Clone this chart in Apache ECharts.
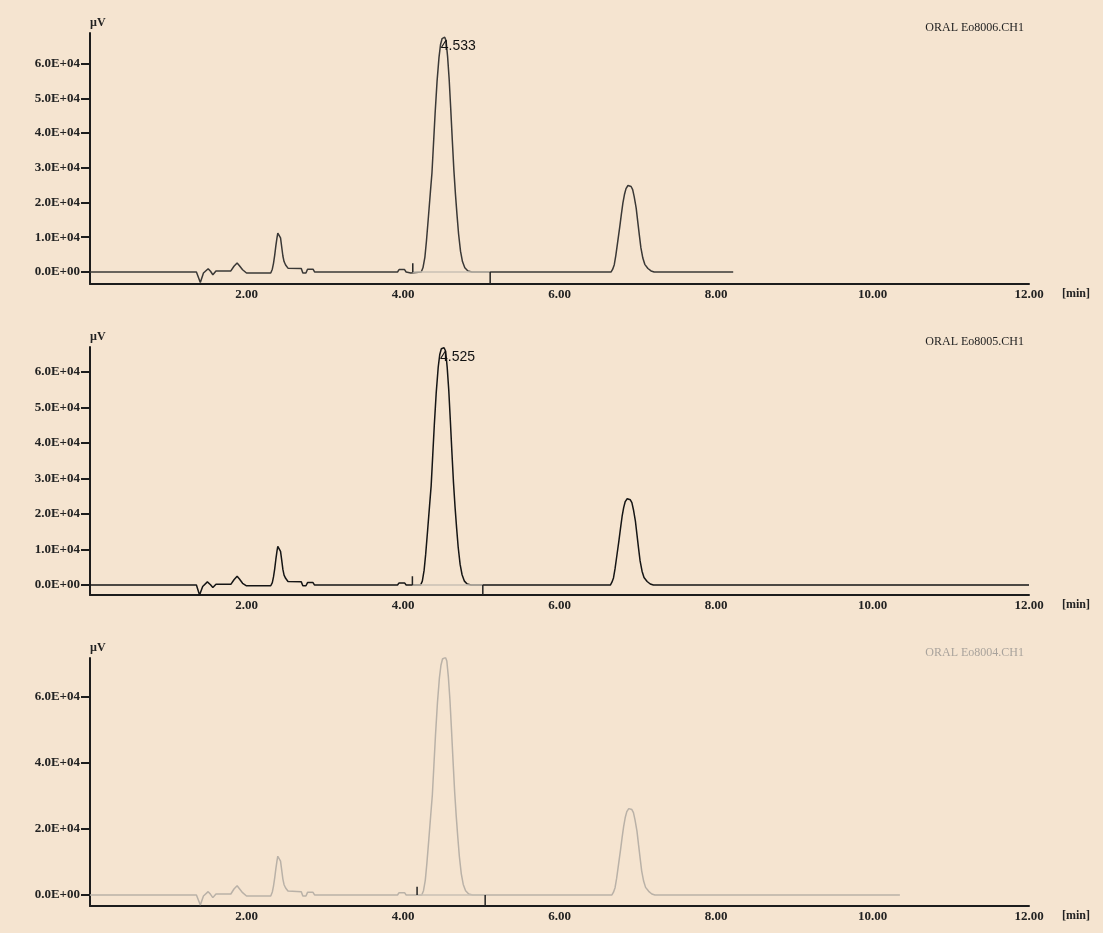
<!DOCTYPE html>
<html>
<head>
<meta charset="utf-8">
<title>ORAL Eo8006 / Eo8005 / Eo8004</title>
<script src="https://cdn.jsdelivr.net/npm/echarts@6/dist/echarts.min.js"></script>
<style>
  html, body { margin: 0; padding: 0; background: #F5E4D0; }
  #chart { width: 1103px; height: 933px; }
</style>
</head>
<body>
<div id="chart"></div>
<script>
// Chromatogram traces: [retention time (min), signal (µV)]
const trace8006 = [
  [0, 0], [1.36, 0], [1.41, -3000], [1.45, -300], [1.51, 950], [1.54, 200], [1.57, -800], [1.61, 300],
  [1.80, 300], [1.84, 1650], [1.88, 2600], [1.91, 1800], [1.95, 650], [2.00, -300], [2.31, -300],
  [2.33, 800], [2.345, 2500], [2.36, 4800], [2.375, 7500], [2.39, 9900], [2.40, 11200], [2.41, 11700],
  [2.42, 11300], [2.435, 9800], [2.45, 7200], [2.465, 4600], [2.48, 3000], [2.50, 2000], [2.53, 1100],
  [2.70, 1000], [2.72, -300], [2.76, -300], [2.78, 800], [2.85, 800], [2.87, 0], [3.93, 0], [3.95, 700],
  [4.02, 700], [4.04, 0], [4.10, -300], [4.125, 0],
  [4.233, 0], [4.255, 1200], [4.28, 4300], [4.30, 9000], [4.325, 15900], [4.35, 23000], [4.37, 28500],
  [4.39, 37000], [4.41, 45500], [4.435, 54800], [4.46, 61800], [4.48, 65500], [4.50, 67200], [4.533, 67600],
  [4.55, 66600], [4.57, 62000], [4.59, 55500], [4.61, 47000], [4.63, 38000], [4.65, 29400], [4.67, 22500],
  [4.69, 16500], [4.71, 11000], [4.735, 6000], [4.76, 3000], [4.79, 1200], [4.83, 300], [4.88, 0],
  [6.66, 0], [6.68, 800], [6.70, 2100], [6.72, 4800], [6.745, 8900], [6.77, 13000], [6.79, 16500],
  [6.81, 19800], [6.83, 22300], [6.85, 24000], [6.875, 24900], [6.895, 25000], [6.915, 24600],
  [6.935, 23700], [6.955, 21600], [6.98, 18400], [7.00, 14500], [7.02, 10700], [7.04, 7000],
  [7.065, 4000], [7.09, 2200], [7.13, 1000], [7.17, 300], [7.21, 0], [8.22, 0]
];
const trace8005 = [
  [0, 0], [1.36, 0], [1.40, -2800], [1.44, -400], [1.50, 900], [1.54, 100], [1.57, -700], [1.61, 200],
  [1.80, 200], [1.84, 1500], [1.88, 2500], [1.91, 1700], [1.95, 500], [2.00, -200], [2.31, -200],
  [2.33, 700], [2.345, 2300], [2.36, 4500], [2.375, 7200], [2.39, 9600], [2.40, 10900], [2.41, 11300],
  [2.42, 10900], [2.435, 9500], [2.45, 7000], [2.465, 4400], [2.48, 2800], [2.50, 1900], [2.53, 1000],
  [2.70, 900], [2.72, -200], [2.76, -200], [2.78, 700], [2.85, 700], [2.87, 0], [3.93, 0], [3.95, 600],
  [4.02, 600], [4.04, 0], [4.12, 0],
  [4.225, 0], [4.247, 1100], [4.27, 4200], [4.29, 8700], [4.315, 15500], [4.34, 22500], [4.36, 28000],
  [4.38, 36500], [4.40, 45000], [4.425, 54300], [4.45, 61300], [4.47, 64900], [4.49, 66500], [4.525, 66800],
  [4.545, 65800], [4.565, 61200], [4.585, 54800], [4.605, 46300], [4.625, 37400], [4.645, 28900],
  [4.665, 22000], [4.685, 16100], [4.705, 10700], [4.73, 5800], [4.755, 2900], [4.785, 1100],
  [4.82, 300], [4.87, 0],
  [6.65, 0], [6.67, 800], [6.69, 2000], [6.71, 4600], [6.735, 8600], [6.76, 12600], [6.78, 16000],
  [6.80, 19300], [6.82, 21800], [6.84, 23500], [6.865, 24300], [6.885, 24400], [6.905, 24000],
  [6.925, 23200], [6.945, 21200], [6.97, 18000], [6.99, 14200], [7.01, 10400], [7.03, 6800],
  [7.055, 3900], [7.08, 2100], [7.12, 1000], [7.16, 300], [7.20, 0], [12.0, 0]
];
const trace8004 = [
  [0, 0], [1.36, 0], [1.41, -3000], [1.45, -300], [1.51, 1000], [1.54, 200], [1.57, -800], [1.61, 300],
  [1.80, 300], [1.84, 1800], [1.88, 2800], [1.91, 1900], [1.95, 700], [2.00, -300], [2.31, -300],
  [2.33, 900], [2.345, 2700], [2.36, 5100], [2.375, 7900], [2.39, 10400], [2.40, 11700], [2.41, 12200],
  [2.42, 11800], [2.435, 10200], [2.45, 7500], [2.465, 4800], [2.48, 3100], [2.50, 2100], [2.53, 1200],
  [2.70, 1000], [2.72, -300], [2.76, -300], [2.78, 800], [2.85, 800], [2.87, 0], [3.93, 0], [3.95, 700],
  [4.02, 700], [4.04, 0], [4.18, 0],
  [4.24, 0], [4.262, 1300], [4.285, 4500], [4.305, 9500], [4.33, 16800], [4.355, 24300], [4.375, 30200],
  [4.395, 39200], [4.415, 48200], [4.44, 58000], [4.465, 65500], [4.485, 69400], [4.505, 71300], [4.542, 71800],
  [4.56, 70700], [4.58, 65800], [4.60, 58900], [4.62, 49800], [4.64, 40300], [4.66, 31200], [4.68, 23900],
  [4.70, 17500], [4.72, 11700], [4.745, 6400], [4.77, 3200], [4.80, 1300], [4.84, 300], [4.89, 0],
  [6.67, 0], [6.69, 850], [6.71, 2200], [6.73, 5000], [6.755, 9300], [6.78, 13600], [6.80, 17300],
  [6.82, 20700], [6.84, 23400], [6.86, 25200], [6.885, 26100], [6.905, 26200], [6.925, 25800],
  [6.945, 24900], [6.965, 22700], [6.99, 19300], [7.01, 15200], [7.03, 11200], [7.05, 7300],
  [7.075, 4200], [7.10, 2300], [7.14, 1100], [7.18, 300], [7.22, 0], [10.35, 0]
];

// Labelled peak retention times (min)
const peakTimes = [4.533, 4.525, 4.542];
// Integration window of the labelled peak: [start, end] (min)
const integration = [[4.125, 5.114], [4.12, 5.02], [4.18, 5.05]];
// Run names
const runNames = ['ORAL Eo8006.CH1', 'ORAL Eo8005.CH1', 'ORAL Eo8004.CH1'];
// Signal axis ranges and tick values
const yRanges = [[-3460, 68800], [-2800, 67000], [-3330, 71600]];
const yTicks = [
  [0, 10000, 20000, 30000, 40000, 50000, 60000],
  [0, 10000, 20000, 30000, 40000, 50000, 60000],
  [0, 20000, 40000, 60000]
];
const xTicks = [2, 4, 6, 8, 10, 12];

const traces = [trace8006, trace8005, trace8004];
const traceColors = ['#3a3836', '#151515', '#b9b1a7'];
const titleColors = ['#222222', '#222222', '#a9a39c'];
const grids = [
  { left: 90, right: 74, top: 33, height: 251 },
  { left: 90, right: 74, top: 347, height: 248 },
  { left: 90, right: 74, top: 658, height: 248 }
];

const serif = '"Liberation Serif", "DejaVu Serif", serif';
const axisColor = '#1c1c1c';

function fmtY(v) {
  if (v === 0) return '0.0E+00';
  return (v / 10000).toFixed(1) + 'E+04';
}

const xAxes = grids.map((g, i) => ({
  type: 'value', gridIndex: i, min: 0, max: 12,
  name: '[min]', nameLocation: 'end', nameGap: 33,
  nameTextStyle: { fontFamily: serif, fontSize: 12, fontWeight: 'bold', color: '#222', verticalAlign: 'top', padding: [4, 0, 0, 0] },
  axisLine: { onZero: false, lineStyle: { color: axisColor, width: 2 } },
  axisTick: { show: false },
  splitLine: { show: false },
  axisLabel: {
    customValues: xTicks, margin: 4,
    formatter: v => v.toFixed(2),
    fontFamily: serif, fontSize: 13, fontWeight: 'bold', color: '#222'
  }
}));

const yAxes = grids.map((g, i) => ({
  type: 'value', gridIndex: i, min: yRanges[i][0], max: yRanges[i][1],
  name: 'µV', nameLocation: 'end', nameGap: 4,
  nameTextStyle: { fontFamily: serif, fontSize: 12, fontWeight: 'bold', color: '#222', align: 'left' },
  axisLine: { show: true, lineStyle: { color: axisColor, width: 2 } },
  axisTick: { show: true, customValues: yTicks[i], length: 9, lineStyle: { color: axisColor, width: 2 } },
  splitLine: { show: false },
  axisLabel: {
    customValues: yTicks[i], margin: 10,
    formatter: fmtY,
    fontFamily: serif, fontSize: 13, fontWeight: 'bold', color: '#222'
  }
}));

const series = [];
traces.forEach((tr, i) => {
  const rt = peakTimes[i];
  const apex = tr.find(p => p[0] === rt);
  series.push({
    type: 'line', xAxisIndex: i, yAxisIndex: i, data: tr,
    showSymbol: false, silent: true, z: 2,
    lineStyle: { color: traceColors[i], width: 1.5 },
    markPoint: {
      symbol: 'circle', symbolSize: 0, silent: true,
      data: [{ coord: apex }],
      label: {
        show: true, position: 'right', distance: 0, offset: [-4, 9],
        formatter: rt.toFixed(3),
        fontFamily: '"Liberation Sans", Arial, sans-serif',
        fontSize: 14, color: '#111'
      }
    }
  });
  const [s, e] = integration[i];
  // integration baseline
  series.push({
    type: 'line', xAxisIndex: i, yAxisIndex: i, data: [[s, 0], [e, 0]],
    showSymbol: false, silent: true, z: 3,
    lineStyle: { color: '#c9c0b5', width: 1.5 }
  });
  // peak start mark
  series.push({
    type: 'line', xAxisIndex: i, yAxisIndex: i, data: [[s, 0], [s, 2500]],
    showSymbol: false, silent: true, z: 4,
    lineStyle: { color: '#222', width: 1.5 }
  });
  // peak end mark
  series.push({
    type: 'line', xAxisIndex: i, yAxisIndex: i, data: [[e, 0], [e, yRanges[i][0]]],
    showSymbol: false, silent: true, z: 4,
    lineStyle: { color: '#222', width: 1.5 }
  });
});

const chart = echarts.init(document.getElementById('chart'), null, { renderer: 'canvas' });
chart.setOption({
  backgroundColor: '#F5E4D0',
  animation: false,
  title: runNames.map((n, i) => ({
    text: n, right: 74, top: grids[i].top - 16,
    textStyle: { fontFamily: serif, fontSize: 12, fontWeight: 'normal', color: titleColors[i] }
  })),
  grid: grids,
  xAxis: xAxes,
  yAxis: yAxes,
  series: series
});
</script>
</body>
</html>
